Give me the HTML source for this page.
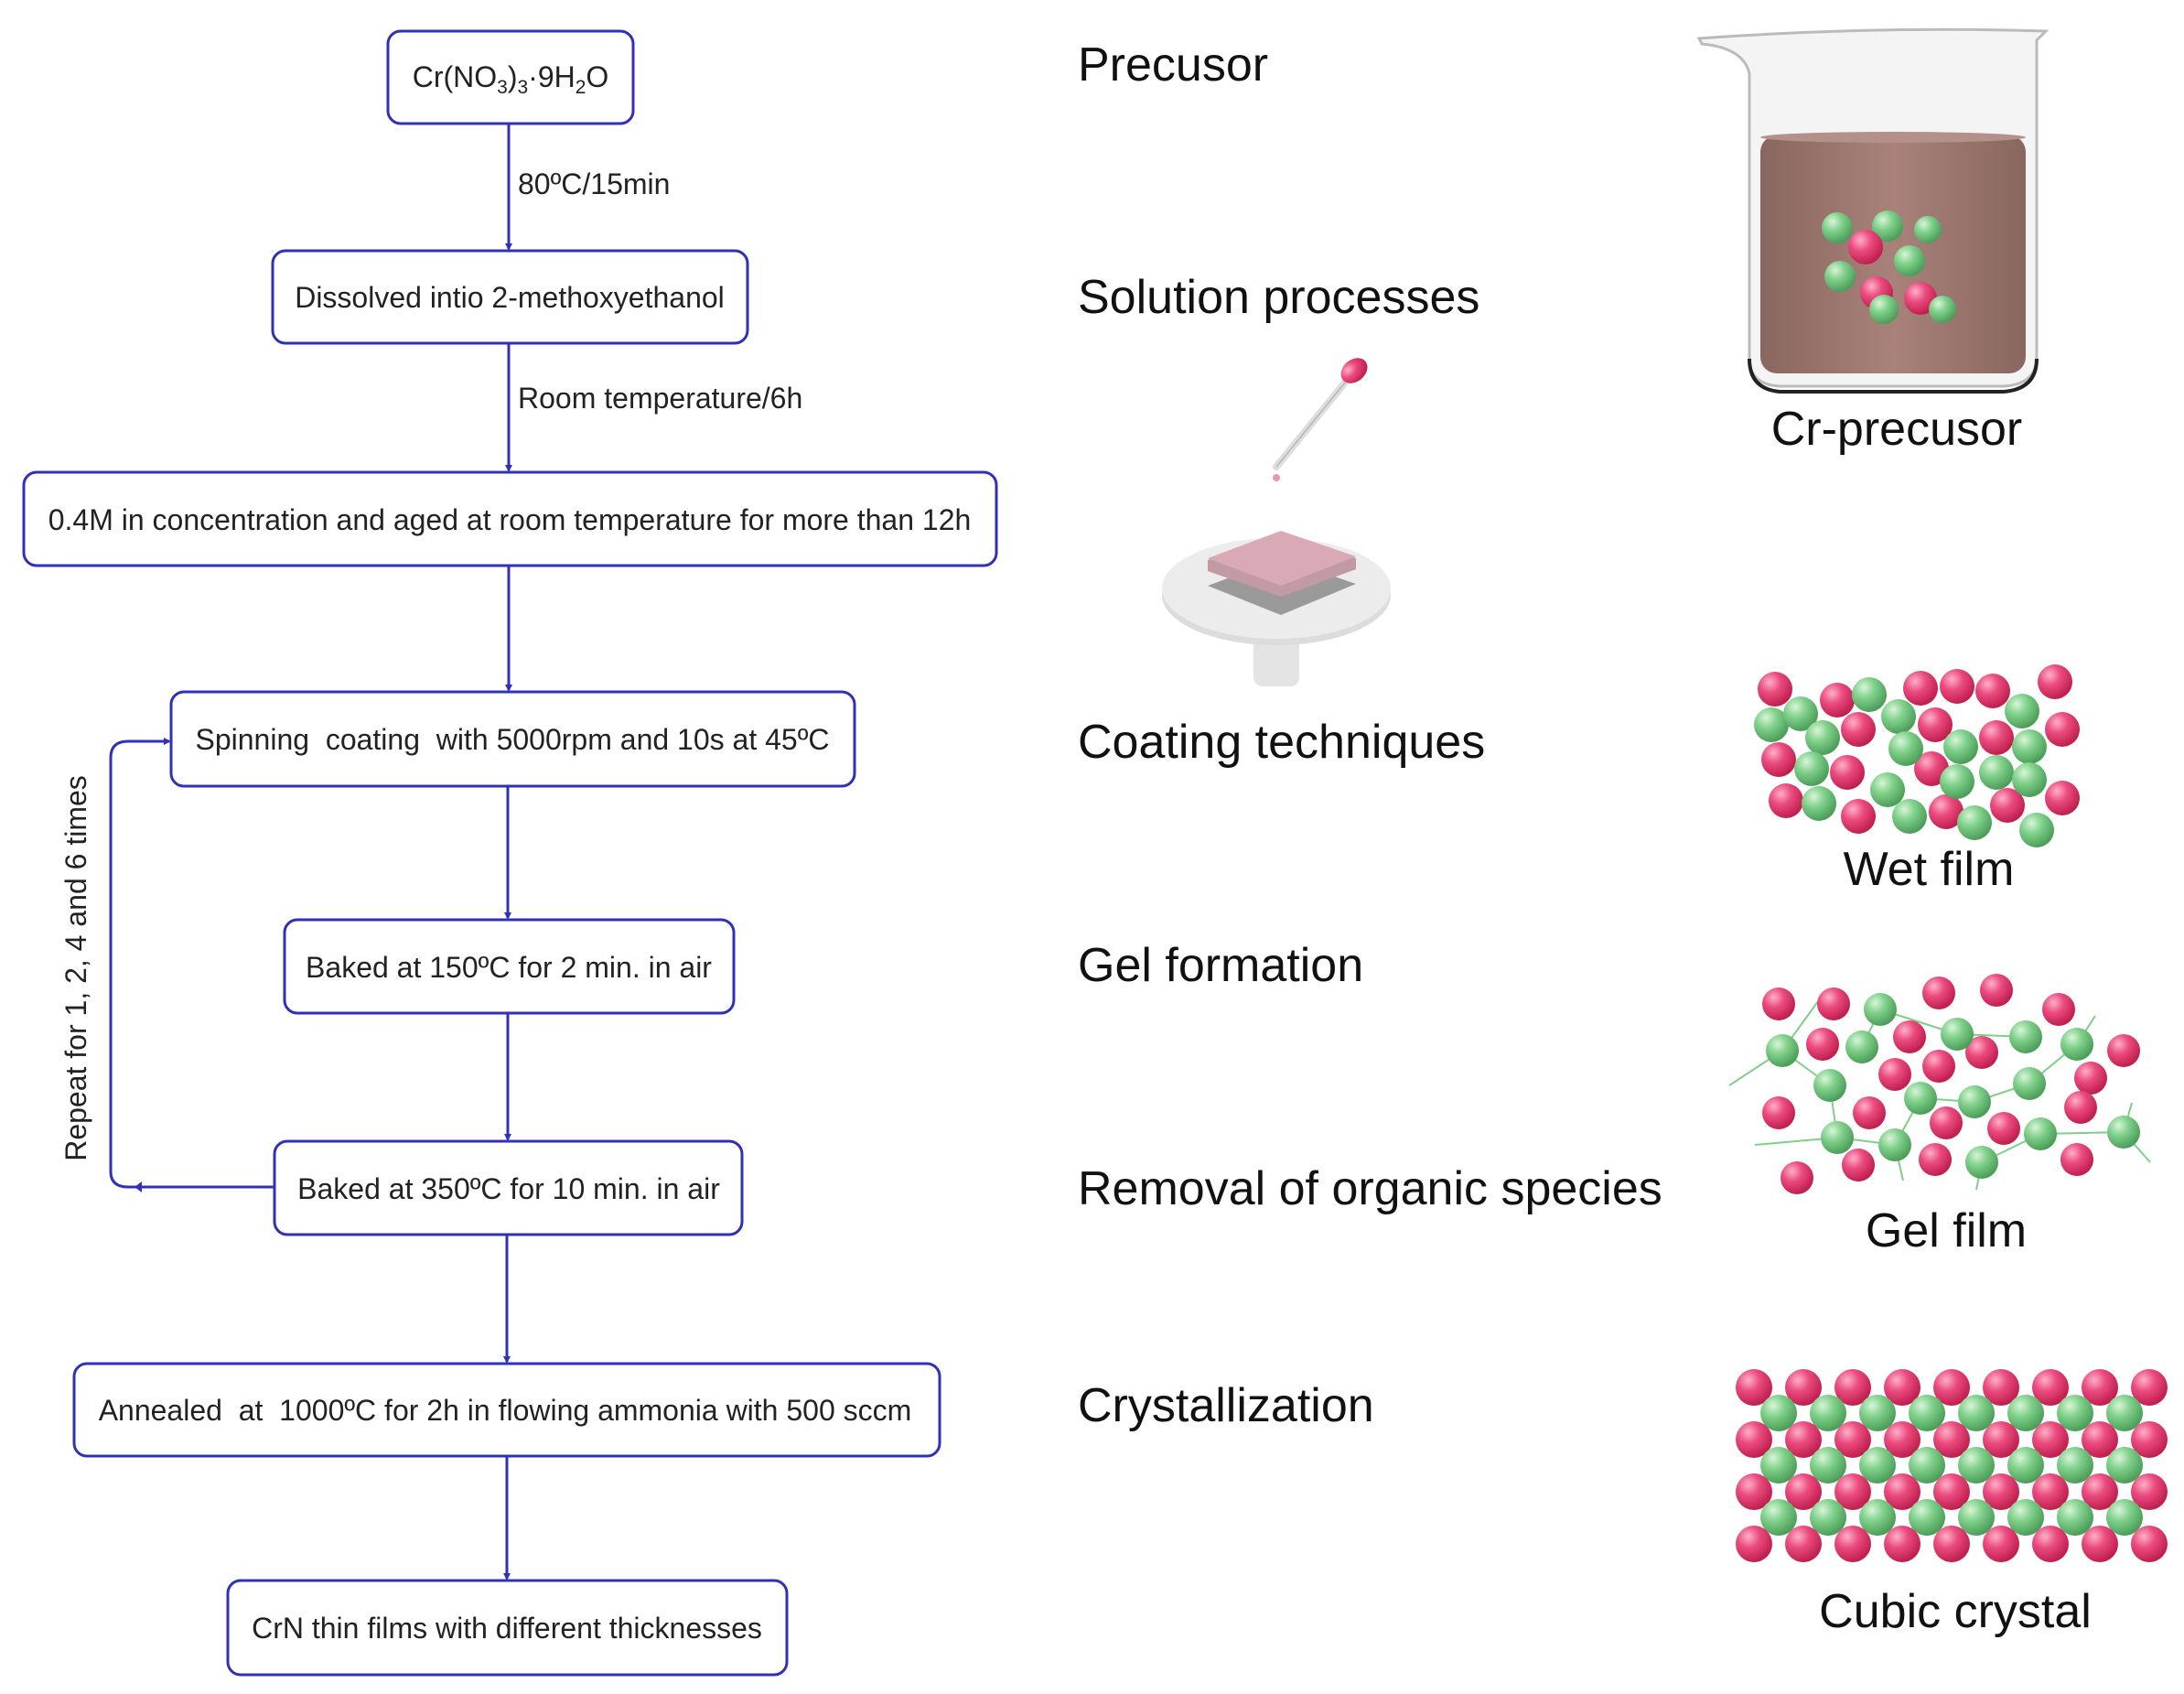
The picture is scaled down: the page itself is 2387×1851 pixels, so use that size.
<!DOCTYPE html>
<html><head><meta charset="utf-8"><style>
html,body{margin:0;padding:0;background:#fff}
svg{display:block}
.bt{font-family:"Liberation Sans",sans-serif;font-size:32px;fill:#222;text-anchor:middle}
.lb{font-family:"Liberation Sans",sans-serif;font-size:52px;fill:#111}
.box{fill:#fff;stroke:#3030b8;stroke-width:3}
.ln{stroke:#3030b8;stroke-width:3;fill:none}
</style></head><body>
<svg width="2387" height="1851" viewBox="0 0 2387 1851" xmlns="http://www.w3.org/2000/svg">
<defs>
<radialGradient id="p" cx="35%" cy="30%" r="70%"><stop offset="0" stop-color="#ffb0c8"/><stop offset="0.45" stop-color="#ea4a7e"/><stop offset="1" stop-color="#c0204f"/></radialGradient>
<radialGradient id="g" cx="35%" cy="30%" r="70%"><stop offset="0" stop-color="#d8f5d8"/><stop offset="0.45" stop-color="#7fd08a"/><stop offset="1" stop-color="#4c9e5a"/></radialGradient>
<marker id="ah" markerWidth="8" markerHeight="8" refX="6" refY="4" orient="auto" markerUnits="userSpaceOnUse"><path d="M0,0 L8,4 L0,8 z" fill="#3030b8"/></marker>
<linearGradient id="liq" x1="0" x2="1"><stop offset="0" stop-color="#8a6660"/><stop offset="0.5" stop-color="#a8827a"/><stop offset="1" stop-color="#8a6660"/></linearGradient>
</defs>

<!-- boxes -->
<rect class="box" x="424" y="34" width="268" height="101" rx="14"/>
<text class="bt" x="558" y="95">Cr(NO<tspan font-size="21" dy="7">3</tspan><tspan dy="-7">)</tspan><tspan font-size="21" dy="7">3</tspan><tspan dy="-7">·9H</tspan><tspan font-size="21" dy="7">2</tspan><tspan dy="-7">O</tspan></text>
<rect class="box" x="298" y="274" width="519" height="101" rx="14"/>
<text class="bt" x="557" y="336">Dissolved intio 2-methoxyethanol</text>
<rect class="box" x="26" y="516" width="1063" height="102" rx="14"/>
<text class="bt" x="557" y="579">0.4M in concentration and aged at room temperature for more than 12h</text>
<rect class="box" x="187" y="756" width="747" height="103" rx="14"/>
<text class="bt" x="560" y="819" xml:space="preserve">Spinning  coating  with 5000rpm and 10s at 45ºC</text>
<rect class="box" x="311" y="1005" width="491" height="102" rx="14"/>
<text class="bt" x="556" y="1068">Baked at 150ºC for 2 min. in air</text>
<rect class="box" x="300" y="1247" width="511" height="102" rx="14"/>
<text class="bt" x="556" y="1310">Baked at 350ºC for 10 min. in air</text>
<rect class="box" x="81" y="1490" width="946" height="101" rx="14"/>
<text class="bt" x="552" y="1552" xml:space="preserve">Annealed  at  1000ºC for 2h in flowing ammonia with 500 sccm</text>
<rect class="box" x="249" y="1727" width="611" height="103" rx="14"/>
<text class="bt" x="554" y="1790">CrN thin films with different thicknesses</text>

<!-- arrows -->
<line class="ln" x1="556" y1="135" x2="556" y2="272" marker-end="url(#ah)"/>
<text class="bt" x="566" y="212" style="text-anchor:start">80ºC/15min</text>
<line class="ln" x1="556" y1="375" x2="556" y2="514" marker-end="url(#ah)"/>
<text class="bt" x="566" y="446" style="text-anchor:start">Room temperature/6h</text>
<line class="ln" x1="556" y1="618" x2="556" y2="754" marker-end="url(#ah)"/>
<line class="ln" x1="555" y1="859" x2="555" y2="1003" marker-end="url(#ah)"/>
<line class="ln" x1="555" y1="1107" x2="555" y2="1245" marker-end="url(#ah)"/>
<line class="ln" x1="554" y1="1349" x2="554" y2="1488" marker-end="url(#ah)"/>
<line class="ln" x1="554" y1="1591" x2="554" y2="1725" marker-end="url(#ah)"/>
<path class="ln" d="M300,1297 L140,1297 Q121,1297 121,1280 L121,828 Q121,810 140,810 L185,810" marker-end="url(#ah)"/>
<polygon points="155,1291 155,1303 147,1297" fill="#3030b8"/>
<text class="bt" transform="translate(94,1058) rotate(-90)">Repeat for 1, 2, 4 and 6 times</text>

<!-- right labels -->
<text class="lb" x="1178" y="88">Precusor</text>
<text class="lb" x="1178" y="342">Solution processes</text>
<text class="lb" x="1178" y="828">Coating techniques</text>
<text class="lb" x="1178" y="1072">Gel formation</text>
<text class="lb" x="1178" y="1316">Removal of organic species</text>
<text class="lb" x="1178" y="1553">Crystallization</text>

<!-- beaker -->
<path d="M1857,42 Q2050,28 2236,34 L2226,44 L2226,390 Q2226,420 2190,422 L1945,422 Q1912,420 1912,392 L1912,80 Q1905,52 1860,48 z" fill="#f4f4f4" stroke="#bbb" stroke-width="3"/>
<rect x="1924" y="148" width="290" height="260" rx="18" fill="url(#liq)"/>
<ellipse cx="2069" cy="150" rx="145" ry="6" fill="#b39089"/>
<path d="M1912,392 Q1912,425 1945,428 L2190,428 Q2226,425 2226,392" fill="none" stroke="#222" stroke-width="4"/>
<g>
<circle cx="2008" cy="249" r="17" fill="url(#g)"/><circle cx="2063" cy="247" r="17" fill="url(#g)"/><circle cx="2107" cy="251" r="15" fill="url(#g)"/>
<circle cx="2039" cy="270" r="19" fill="url(#p)"/><circle cx="2087" cy="285" r="17" fill="url(#g)"/><circle cx="2011" cy="302" r="17" fill="url(#g)"/>
<circle cx="2051" cy="320" r="18" fill="url(#p)"/><circle cx="2099" cy="326" r="18" fill="url(#p)"/><circle cx="2059" cy="338" r="16" fill="url(#g)"/><circle cx="2123" cy="338" r="15" fill="url(#g)"/>
</g>
<text class="lb" x="2073" y="486" text-anchor="middle">Cr-precusor</text>

<!-- dropper and spin coater -->
<line x1="1395" y1="510" x2="1470" y2="418" stroke="#ddd" stroke-width="8" stroke-linecap="round"/>
<line x1="1395" y1="510" x2="1470" y2="418" stroke="#aaa" stroke-width="1"/>
<ellipse cx="1480" cy="405" rx="16" ry="12" fill="url(#p)" transform="rotate(-40 1480 405)"/>
<circle cx="1395" cy="522" r="4" fill="#e89ab0"/>
<rect x="1370" y="660" width="50" height="90" rx="10" fill="#e4e4e4"/>
<ellipse cx="1395" cy="650" rx="125" ry="55" fill="#dcdcdc"/>
<ellipse cx="1395" cy="643" rx="125" ry="55" fill="#ececec"/>
<polygon points="1320,640 1400,610 1482,638 1400,672" fill="#9a9a9a"/>
<polygon points="1320,612 1400,582 1482,610 1482,622 1400,652 1320,624" fill="#c29aa5"/>
<polygon points="1320,610 1400,580 1482,608 1400,640" fill="#d9aab6"/>

<!-- wet film -->
<g fill="url(#p)">
<circle cx="1940" cy="753" r="19"/><circle cx="2008" cy="765" r="19"/><circle cx="2099" cy="752" r="19"/><circle cx="2139" cy="750" r="19"/><circle cx="2178" cy="755" r="19"/><circle cx="2246" cy="745" r="19"/><circle cx="2254" cy="797" r="19"/><circle cx="2031" cy="797" r="19"/><circle cx="2115" cy="792" r="19"/><circle cx="2182" cy="806" r="19"/><circle cx="1944" cy="830" r="19"/><circle cx="2019" cy="844" r="19"/><circle cx="2111" cy="840" r="19"/><circle cx="1952" cy="875" r="19"/><circle cx="2031" cy="892" r="19"/><circle cx="2127" cy="887" r="19"/><circle cx="2194" cy="880" r="19"/><circle cx="2254" cy="872" r="19"/>
</g>
<g fill="url(#g)">
<circle cx="2043" cy="759" r="19"/><circle cx="1936" cy="792" r="19"/><circle cx="1968" cy="780" r="19"/><circle cx="2075" cy="783" r="19"/><circle cx="2210" cy="777" r="19"/><circle cx="1992" cy="806" r="19"/><circle cx="2083" cy="818" r="19"/><circle cx="2143" cy="816" r="19"/><circle cx="2218" cy="816" r="19"/><circle cx="1980" cy="840" r="19"/><circle cx="2063" cy="863" r="19"/><circle cx="2139" cy="854" r="19"/><circle cx="2182" cy="844" r="19"/><circle cx="2218" cy="852" r="19"/><circle cx="1988" cy="878" r="19"/><circle cx="2087" cy="892" r="19"/><circle cx="2158" cy="899" r="19"/><circle cx="2226" cy="907" r="19"/>
</g>
<text class="lb" x="2108" y="967" text-anchor="middle">Wet film</text>

<!-- gel film -->
<g stroke="#7fcf8a" stroke-width="2">
<line x1="1890" y1="1186" x2="1948" y2="1148"/><line x1="1948" y1="1148" x2="2000" y2="1186"/><line x1="2000" y1="1186" x2="2008" y2="1243"/><line x1="1918" y1="1251" x2="2008" y2="1243"/><line x1="2008" y1="1243" x2="2071" y2="1251"/><line x1="2071" y1="1251" x2="2099" y2="1200"/><line x1="2099" y1="1200" x2="2158" y2="1204"/><line x1="2158" y1="1204" x2="2218" y2="1184"/><line x1="2218" y1="1184" x2="2270" y2="1141"/><line x1="2270" y1="1141" x2="2290" y2="1110"/><line x1="2055" y1="1103" x2="2139" y2="1130"/><line x1="2139" y1="1130" x2="2214" y2="1133"/><line x1="2035" y1="1144" x2="2055" y2="1103"/><line x1="2230" y1="1239" x2="2321" y2="1237"/><line x1="2321" y1="1237" x2="2350" y2="1270"/><line x1="2321" y1="1237" x2="2330" y2="1205"/><line x1="2166" y1="1270" x2="2230" y2="1239"/><line x1="2166" y1="1270" x2="2160" y2="1300"/><line x1="2071" y1="1251" x2="2080" y2="1290"/><line x1="1948" y1="1148" x2="1990" y2="1090"/>
</g>
<g fill="url(#p)">
<circle cx="1944" cy="1097" r="18"/><circle cx="2004" cy="1097" r="18"/><circle cx="2119" cy="1085" r="18"/><circle cx="2182" cy="1082" r="18"/><circle cx="2250" cy="1103" r="18"/><circle cx="1992" cy="1141" r="18"/><circle cx="2087" cy="1133" r="18"/><circle cx="2166" cy="1150" r="18"/><circle cx="2321" cy="1148" r="18"/><circle cx="2071" cy="1174" r="18"/><circle cx="2119" cy="1165" r="18"/><circle cx="2285" cy="1178" r="18"/><circle cx="1944" cy="1216" r="18"/><circle cx="2043" cy="1216" r="18"/><circle cx="2127" cy="1227" r="18"/><circle cx="2190" cy="1233" r="18"/><circle cx="2274" cy="1210" r="18"/><circle cx="1964" cy="1287" r="18"/><circle cx="2031" cy="1273" r="18"/><circle cx="2115" cy="1267" r="18"/><circle cx="2270" cy="1267" r="18"/>
</g>
<g fill="url(#g)">
<circle cx="2055" cy="1103" r="18"/><circle cx="2139" cy="1130" r="18"/><circle cx="2214" cy="1133" r="18"/><circle cx="2270" cy="1141" r="18"/><circle cx="1948" cy="1148" r="18"/><circle cx="2035" cy="1144" r="18"/><circle cx="2000" cy="1186" r="18"/><circle cx="2099" cy="1200" r="18"/><circle cx="2158" cy="1204" r="18"/><circle cx="2218" cy="1184" r="18"/><circle cx="2008" cy="1243" r="18"/><circle cx="2071" cy="1251" r="18"/><circle cx="2230" cy="1239" r="18"/><circle cx="2321" cy="1237" r="18"/><circle cx="2166" cy="1270" r="18"/>
</g>
<text class="lb" x="2127" y="1362" text-anchor="middle">Gel film</text>

<!-- cubic crystal -->
<g id="prow" fill="url(#p)">
<circle cx="1917" cy="1516" r="20"/><circle cx="1971" cy="1516" r="20"/><circle cx="2025" cy="1516" r="20"/><circle cx="2079" cy="1516" r="20"/><circle cx="2133" cy="1516" r="20"/><circle cx="2187" cy="1516" r="20"/><circle cx="2241" cy="1516" r="20"/><circle cx="2295" cy="1516" r="20"/><circle cx="2349" cy="1516" r="20"/>
</g>
<g id="grow" fill="url(#g)">
<circle cx="1944" cy="1544" r="20"/><circle cx="1998" cy="1544" r="20"/><circle cx="2052" cy="1544" r="20"/><circle cx="2106" cy="1544" r="20"/><circle cx="2160" cy="1544" r="20"/><circle cx="2214" cy="1544" r="20"/><circle cx="2268" cy="1544" r="20"/><circle cx="2322" cy="1544" r="20"/>
</g>
<use href="#prow" y="57"/><use href="#grow" y="57"/>
<use href="#prow" y="114"/><use href="#grow" y="114"/>
<use href="#prow" y="171"/>
<text class="lb" x="2137" y="1778" text-anchor="middle">Cubic crystal</text>
</svg>
</body></html>
